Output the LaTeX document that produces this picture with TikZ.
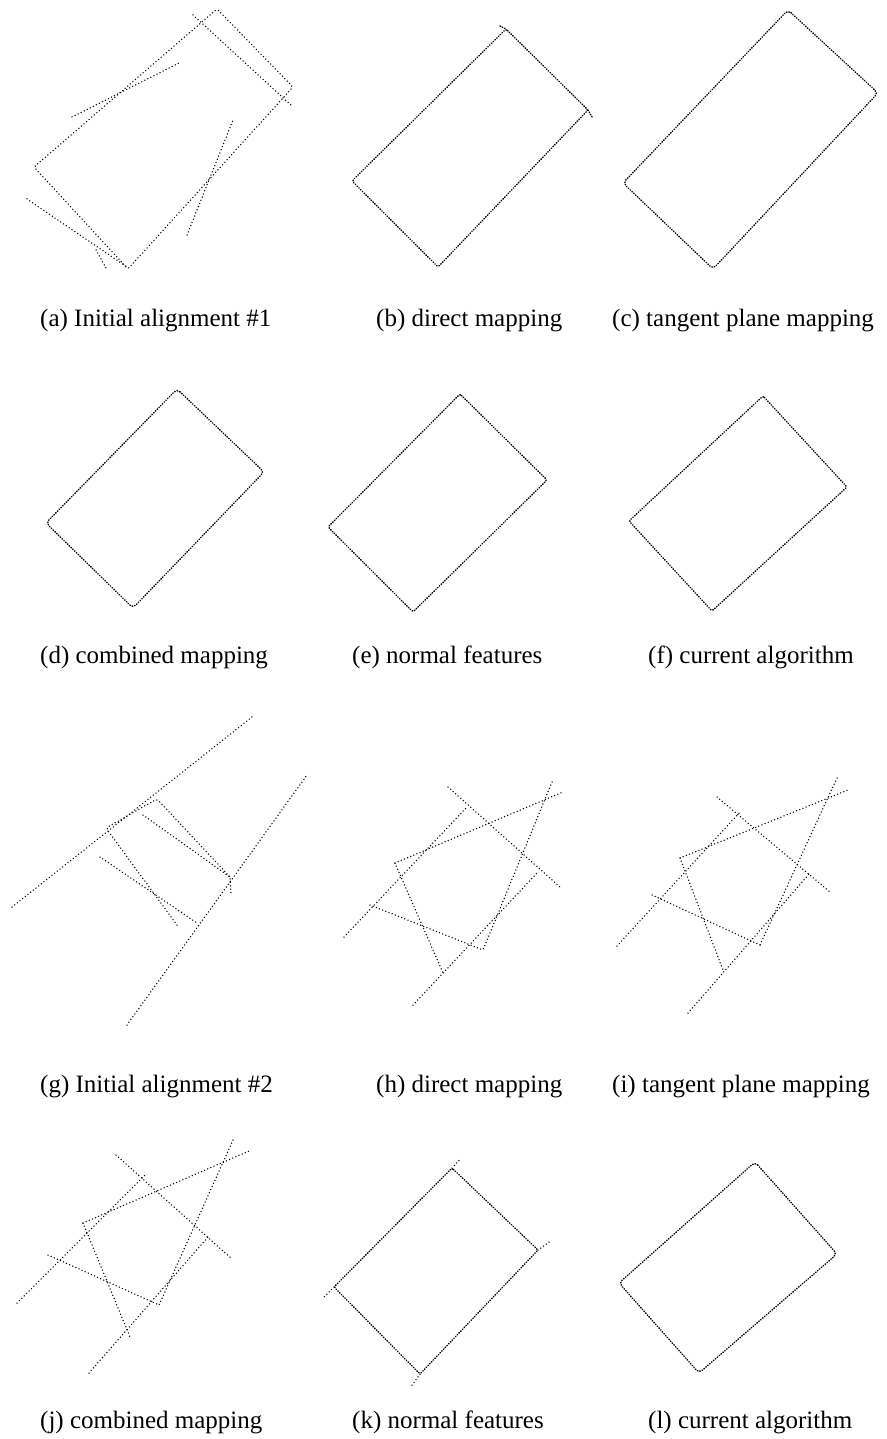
\documentclass[tikz,border=0pt]{standalone}
\usepackage{fontspec}
\setmainfont{Liberation Serif}
\begin{document}
\begin{tikzpicture}[x=1pt,y=-1pt,
  sparse/.style={line width=1.5pt, line cap=round, dash pattern=on 0pt off 3.4pt, black},
  dense/.style={line width=1.5pt, line cap=round, dash pattern=on 0.5pt off 2pt, black, rounded corners=2pt},
  subcap/.style={anchor=base west, inner sep=0pt, font=\fontsize{25}{30}\selectfont}]
\useasboundingbox (0,0) rectangle (886,1439);
\fill[white] (0,0) rectangle (886,1439);
% (a)
\draw[sparse, rounded corners=2pt] (217,9) -- (293,87) -- (128,269) -- (34,167) -- cycle;
\draw[sparse] (72,117) -- (181,62);
\draw[sparse] (193,15) -- (293,107);
\draw[sparse] (187,235) -- (233,120);
\draw[sparse] (27,199) -- (127,267);
\draw[sparse] (96,250) -- (106,268);
% (b)
\draw[dense] (506,29) -- (588,110) -- (438,267) -- (352,181) -- cycle;
\draw[dense] (500,26) -- (506,29);
\draw[dense] (588,110) -- (592,117);
% (c)
\draw[dense, rounded corners=4pt] (788,10) -- (878,93) -- (713,269) -- (623,183) -- cycle;
% (d)
\draw[dense, rounded corners=4pt] (177,389) -- (264,472) -- (133,608) -- (46,523) -- cycle;
% (e)
\draw[dense] (460,394) -- (547,480) -- (413,612) -- (328,527) -- cycle;
% (f)
\draw[dense] (763,396) -- (847,487) -- (712,611) -- (629,521) -- cycle;
% (g)
\draw[sparse] (12,907) -- (252,717);
\draw[sparse] (127,1025) -- (307,775);
\draw[sparse, rounded corners=3pt] (177,925) -- (106,828) -- (157,799) -- (230,877);
\draw[sparse] (100,857) -- (197,923);
\draw[sparse] (143,815) -- (230,877) -- (231,895);
% (h)
\draw[sparse] (344,937) -- (467,807);
\draw[sparse] (395,863) -- (563,792);
\draw[sparse] (448,787) -- (560,887);
\draw[sparse] (552,782) -- (483,950);
\draw[sparse] (413,1005) -- (538,872);
\draw[sparse] (370,905) -- (483,950);
\draw[sparse] (395,863) -- (443,973);
% (i)
\draw[sparse] (617,946) -- (740,812);
\draw[sparse] (680,858) -- (848,790);
\draw[sparse] (717,797) -- (830,892);
\draw[sparse] (837,778) -- (760,945);
\draw[sparse] (688,1013) -- (810,873);
\draw[sparse] (652,895) -- (760,945);
\draw[sparse] (680,858) -- (723,970);
% (j)
\draw[sparse] (17,1303) -- (145,1175);
\draw[sparse] (83,1223) -- (249,1151);
\draw[sparse] (116,1155) -- (232,1259);
\draw[sparse] (233,1140) -- (159,1305);
\draw[sparse] (89,1373) -- (208,1237);
\draw[sparse] (48,1255) -- (159,1305);
\draw[sparse] (83,1223) -- (130,1337);
% (k)
\draw[dense] (452,1168) -- (538,1250) -- (420,1374) -- (334,1287) -- cycle;
\draw[sparse] (452,1168) -- (461,1158);
\draw[sparse] (538,1250) -- (549,1242);
\draw[sparse] (334,1287) -- (324,1297);
\draw[sparse] (420,1374) -- (412,1385);
% (l)
\draw[dense, rounded corners=4pt] (755,1162) -- (837,1254) -- (699,1373) -- (619,1283) -- cycle;
% captions
\node[subcap] (ca) at (40,326) {(a) Initial alignment \#1};
\node[subcap] (cb) at (376,326) {(b) direct mapping};
\node[subcap] (cc) at (612,326) {(c) tangent plane mapping};
\node[subcap] (cd) at (40,663) {(d) combined mapping};
\node[subcap] (ce) at (352,663) {(e) normal features};
\node[subcap] (cf) at (648,663) {(f) current algorithm};
\node[subcap] (cg) at (40,1092) {(g) Initial alignment \#2};
\node[subcap] (ch) at (376,1092) {(h) direct mapping};
\node[subcap] (ci) at (612,1092) {(i) tangent plane mapping};
\node[subcap] (cj) at (40,1428) {(j) combined mapping};
\node[subcap] (ck) at (352,1428) {(k) normal features};
\node[subcap] (cl) at (648,1428) {(l) current algorithm};
\end{tikzpicture}
\end{document}
